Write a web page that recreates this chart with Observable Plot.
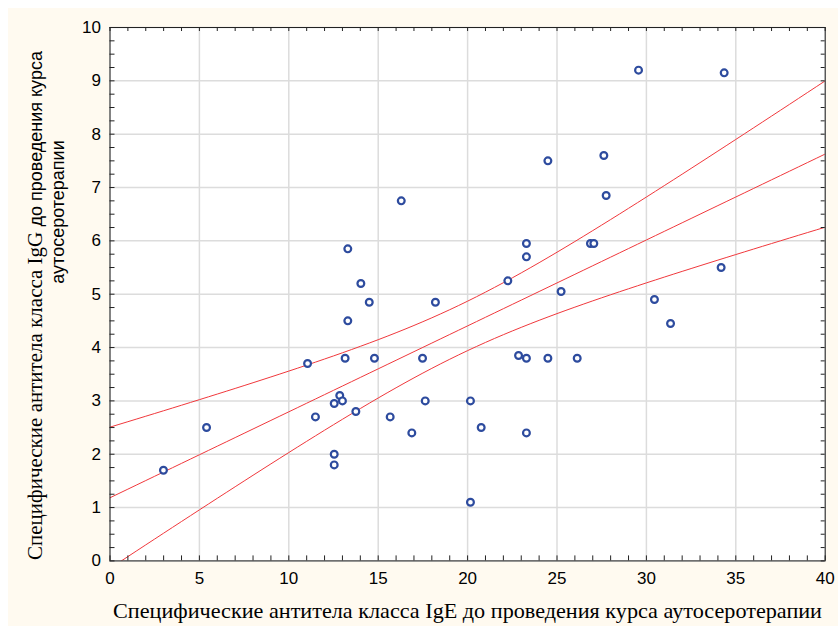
<!DOCTYPE html>
<html><head><meta charset="utf-8">
<script src="https://cdn.jsdelivr.net/npm/d3@7"></script>
<script src="https://cdn.jsdelivr.net/npm/@observablehq/plot@0.6"></script>
<style>
html,body{margin:0;padding:0;background:#fff;overflow:hidden}
#wrap{position:absolute;left:8px;top:8px;width:830px;height:618px;background:#fffaf0}
svg{display:block}
</style></head><body><div id="wrap"></div>
<script>
// IgE (x) and IgG (y) antibody values
const igE = [13.30,14.03,14.50,18.20,13.30,11.05,13.15,14.79,17.48,12.85,12.54,13.00,13.75,11.49,15.67,17.63,16.88,12.54,12.54,
             24.49,27.62,27.75,23.29,23.29,26.87,27.06,22.25,25.23,22.85,23.29,24.49,26.13,20.16,20.76,23.29,20.16,
             29.56,34.35,34.18,30.45,31.35,5.40,2.99,16.29];
const igG = [5.85,5.20,4.85,4.85,4.50,3.70,3.80,3.80,3.80,3.10,2.95,3.00,2.80,2.70,2.70,3.00,2.40,2.00,1.80,
             7.50,7.60,6.85,5.95,5.70,5.95,5.95,5.25,5.05,3.85,3.80,3.80,3.80,3.00,2.50,2.40,1.10,
             9.20,9.15,5.50,4.90,4.45,2.50,1.70,6.75];
const xTicks = [0,5,10,15,20,25,30,35,40];
const yTicks = [0,1,2,3,4,5,6,7,8,9,10];
const xMinor = d3.range(0, 40.001, 1);
const yMinor = d3.range(0, 10.001, 0.25);
const xTitle = "Специфические антитела класса IgE до проведения курса аутосеротерапии";
const yTitleSerif = "Специфические антитела класса IgG ";
const yTitleSans = "до проведения курса";
const yTitle2 = "аутосеротерапии";

const pts = igE.map((x, i) => ({x, y: igG[i]}));

// linear regression with 95% confidence band for the mean
const n = pts.length;
const mx = d3.mean(pts, d => d.x), my = d3.mean(pts, d => d.y);
const sxx = d3.sum(pts, d => (d.x - mx) ** 2);
const sxy = d3.sum(pts, d => (d.x - mx) * (d.y - my));
const b = sxy / sxx, a = my - b * mx;
const sse = d3.sum(pts, d => (d.y - a - b * d.x) ** 2);
const s = Math.sqrt(sse / (n - 2));
const tq = 2.018; // t(0.975, n-2 = 42)
const fit = d3.range(0, 40.001, 0.5).map(x => {
  const yh = a + b * x;
  const h = tq * s * Math.sqrt(1 / n + (x - mx) ** 2 / sxx);
  return {x, yh, lo: yh - h, hi: yh + h};
});

const W = 830, H = 618;
const mL = 101.5, mR = 13.3, mT = 19, mB = 65.6;
const innerW = W - mL - mR, innerH = H - mT - mB;
const sans = "'Liberation Sans', Arial, sans-serif";
const serif = "'Liberation Serif', 'Times New Roman', serif";
const red = "#f0383c";

const chart = Plot.plot({
  width: W, height: H,
  marginLeft: mL, marginRight: mR, marginTop: mT, marginBottom: mB,
  style: {background: "transparent", fontFamily: sans, color: "#000"},
  x: {domain: [0, 40]},
  y: {domain: [0, 10]},
  marks: [
    Plot.frame({fill: "white", stroke: null}),
    Plot.gridX(xTicks, {stroke: "#dcdcdc", strokeOpacity: 1, strokeWidth: 1.5}),
    Plot.gridY(yTicks, {stroke: "#dcdcdc", strokeOpacity: 1, strokeWidth: 1.5}),
    Plot.line(fit, {x: "x", y: "hi", stroke: red, strokeWidth: 1, clip: true}),
    Plot.line(fit, {x: "x", y: "yh", stroke: red, strokeWidth: 1, clip: true}),
    Plot.line(fit, {x: "x", y: "lo", stroke: red, strokeWidth: 1, clip: true}),
    Plot.dot(pts, {x: "x", y: "y", r: 3.4, stroke: "#2d4b9e", strokeWidth: 2.2, fill: "white"}),
    Plot.ruleX(xMinor, {stroke: "#222", insetTop: innerH - 5}),
    Plot.ruleX(xMinor, {stroke: "#222", insetBottom: innerH - 4}),
    Plot.ruleY(yMinor, {stroke: "#222", insetRight: innerW - 5}),
    Plot.ruleY(yMinor, {stroke: "#222", insetLeft: innerW - 4}),
    Plot.frame({stroke: "#222", strokeWidth: 1}),
    Plot.axisX(xTicks, {tickSize: 0, tickPadding: 11, fontSize: 17, fill: "#000", label: null, tickFormat: d3.format("d")}),
    Plot.axisY(yTicks, {tickSize: 0, tickPadding: 9, fontSize: 17, fill: "#000", label: null, tickFormat: d3.format("d")})
  ]
});
document.getElementById("wrap").appendChild(chart);

const svg = d3.select(chart);
svg.append("text")
  .attr("x", 105).attr("y", 610)
  .attr("text-anchor", "start")
  .attr("font-family", serif).attr("font-size", 22).attr("fill", "#000")
  .attr("textLength", 709).attr("lengthAdjust", "spacingAndGlyphs")
  .text(xTitle);
const t1 = svg.append("text")
  .attr("transform", "translate(33.5,552) rotate(-90)")
  .attr("text-anchor", "start")
  .attr("fill", "#000");
t1.append("tspan").attr("font-family", serif).attr("font-size", 21).text(yTitleSerif);
t1.append("tspan").attr("font-family", sans).attr("font-size", 18).text(yTitleSans);
svg.append("text")
  .attr("transform", "translate(55.5,204) rotate(-90)")
  .attr("text-anchor", "middle")
  .attr("font-family", sans).attr("font-size", 18).attr("fill", "#000")
  .text(yTitle2);
</script></body></html>
